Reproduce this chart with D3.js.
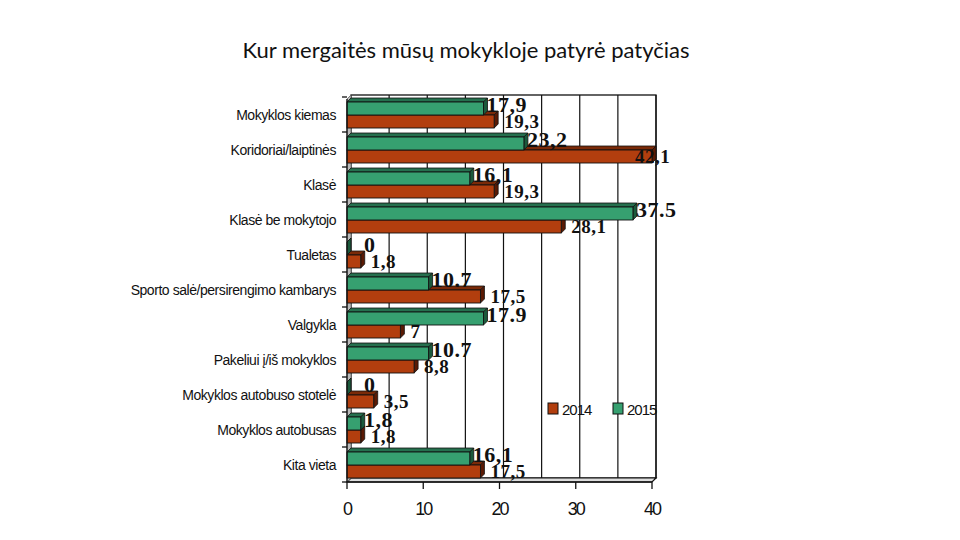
<!DOCTYPE html>
<html><head><meta charset="utf-8">
<script src="https://cdn.jsdelivr.net/npm/d3@7"></script>
<style>body{margin:0;background:#fff}svg{display:block}</style>
</head><body>
<svg id="c" width="960" height="540"></svg>
<script>
const title = "Kur mergaitės mūsų mokykloje patyrė patyčias";
const categories = ["Mokyklos kiemas","Koridoriai/laiptinės","Klasė","Klasė be mokytojo","Tualetas","Sporto salė/persirengimo kambarys","Valgykla","Pakeliui į/iš mokyklos","Mokyklos autobuso stotelė","Mokyklos autobusas","Kita vieta"];
const values2014 = [19.3,42.1,19.3,28.1,1.8,17.5,7,8.8,3.5,1.8,17.5];
const values2015 = [17.9,23.2,16.1,37.5,0,10.7,17.9,10.7,0,1.8,16.1];
const labels2014 = ["19,3","42,1","19,3","28,1","1,8","17,5","7","8,8","3,5","1,8","17,5"];
const labels2015 = ["17,9","23,2","16,1","37.5","0","10.7","17.9","10.7","0","1,8","16,1"];
const xTicks = [0,10,20,30,40];
const gridValues = [5,10,15,20,25,30,35,40];
const seriesNames = ["2014","2015"];

const svg = d3.select("#c");
const x = d3.scaleLinear().domain([0,40]).range([347,652]);
const y = d3.scaleBand().domain(categories).range([97,482]);
const dx = 4, dy = -4;
const colO = "#b23e0e", colOside = "#5a1a04", colOtop = "#7a2a08";
const colG = "#36a070", colGside = "#1b5a3c", colGtop = "#25704e";

svg.append("text").attr("x",466).attr("y",58).attr("text-anchor","middle")
  .attr("font-family","Lato, 'Open Sans', sans-serif").attr("font-size",22).attr("fill","#111").text(title);

// back wall
const plotTop = y.range()[0]-2, plotBot = y.range()[1];
svg.append("rect").attr("x",x(0)+dx).attr("y",plotTop).attr("width",x(40)-x(0)).attr("height",plotBot+dy-plotTop)
  .attr("fill","#fff").attr("stroke","#111").attr("stroke-width",1.3);
svg.append("g").selectAll("line").data(gridValues).join("line")
  .attr("x1",d=>x(d)+dx).attr("x2",d=>x(d)+dx).attr("y1",plotTop).attr("y2",plotBot+dy)
  .attr("stroke","#111").attr("stroke-width",1.2);
// floor
svg.append("path").attr("d",`M${x(0)},${plotBot}L${x(0)+dx},${plotBot+dy}L${x(40)+dx},${plotBot+dy}L${x(40)},${plotBot}Z`)
  .attr("fill","#ddd").attr("stroke","#111").attr("stroke-width",1.2);
// left wall
svg.append("path").attr("d",`M${x(0)},${plotTop-dy}L${x(0)+dx},${plotTop}L${x(0)+dx},${plotBot+dy}L${x(0)},${plotBot}Z`)
  .attr("fill","#bbb").attr("stroke","#666").attr("stroke-width",0.8);

function drawBars(vals, off, cF, cT, cS){
  const h = 13;
  const g = svg.append("g");
  categories.forEach((c,i)=>{
    const v = Math.min(vals[i],40);
    const x0 = x(0), x1 = x(v), yy = y(c)+off;
    g.append("path").attr("d",`M${x0},${yy}L${x0+dx},${yy+dy}L${x1+dx},${yy+dy}L${x1},${yy}Z`)
      .attr("fill",cT).attr("stroke","#111").attr("stroke-width",0.8);
    g.append("path").attr("d",`M${x1},${yy}L${x1+dx},${yy+dy}L${x1+dx},${yy+h+dy}L${x1},${yy+h}Z`)
      .attr("fill",cS).attr("stroke","#111").attr("stroke-width",0.8);
    g.append("rect").attr("x",x0).attr("y",yy).attr("width",x1-x0).attr("height",h)
      .attr("fill",cF).attr("stroke","#111").attr("stroke-width",0.9);
  });
}
drawBars(values2014, 18, colO, colOtop, colOside);
drawBars(values2015, 5, colG, colGtop, colGside);

// value labels
svg.append("g").selectAll("text").data(categories).join("text")
  .attr("x",(d,i)=>Math.min(x(values2014[i])+10, 635)).attr("y",d=>y(d)+31)
  .attr("font-family","'Liberation Serif', 'Times New Roman', serif").attr("font-weight","bold")
  .attr("font-size",19).attr("letter-spacing",0.5).attr("fill","#111").text((d,i)=>labels2014[i]);
svg.append("g").selectAll("text").data(categories).join("text")
  .attr("x",(d,i)=>Math.max(x(values2015[i])+3, x(0)+17)).attr("y",d=>y(d)+15)
  .attr("font-family","'Liberation Serif', 'Times New Roman', serif").attr("font-weight","bold")
  .attr("font-size",22).attr("letter-spacing",0.5).attr("fill","#111").text((d,i)=>labels2015[i]);

// left axis
svg.append("line").attr("x1",x(0)).attr("x2",x(0)).attr("y1",plotTop-dy).attr("y2",plotBot).attr("stroke","#111").attr("stroke-width",1.3);
const yTickPos = categories.map(c=>y(c)).concat([plotBot]);
svg.append("g").selectAll("line").data(yTickPos).join("line")
  .attr("x1",x(0)-5).attr("x2",x(0)).attr("y1",d=>d).attr("y2",d=>d).attr("stroke","#111").attr("stroke-width",1.3);
svg.append("g").selectAll("text").data(categories).join("text")
  .attr("x",336).attr("y",d=>y(d)+y.bandwidth()/2+5).attr("text-anchor","end")
  .attr("font-family","'Liberation Sans', Arial, sans-serif").attr("font-size",14).attr("letter-spacing",-0.45)
  .attr("fill","#111").text(d=>d);

// bottom axis
svg.append("line").attr("x1",x(0)).attr("x2",x(40)).attr("y1",plotBot).attr("y2",plotBot).attr("stroke","#111").attr("stroke-width",1.3);
svg.append("g").selectAll("line").data(xTicks).join("line")
  .attr("x1",d=>x(d)).attr("x2",d=>x(d)).attr("y1",plotBot).attr("y2",plotBot+7).attr("stroke","#111").attr("stroke-width",1.3);
svg.append("g").selectAll("text").data(xTicks).join("text")
  .attr("x",d=>x(d)).attr("y",515).attr("text-anchor","middle")
  .attr("font-family","'Liberation Sans', Arial, sans-serif").attr("font-size",18).attr("letter-spacing",-2)
  .attr("fill","#111").text(d=>d);

// legend
const leg = svg.append("g");
[[548,colO],[613,colG]].forEach((p,i)=>{
  leg.append("rect").attr("x",p[0]).attr("y",403).attr("width",10).attr("height",11).attr("fill",p[1]).attr("stroke","#111").attr("stroke-width",1);
  leg.append("text").attr("x",p[0]+14).attr("y",414.5).attr("font-family","'Liberation Sans', Arial, sans-serif")
    .attr("font-size",15).attr("letter-spacing",-1).attr("fill","#111").text(seriesNames[i]);
});
</script>
</body></html>
